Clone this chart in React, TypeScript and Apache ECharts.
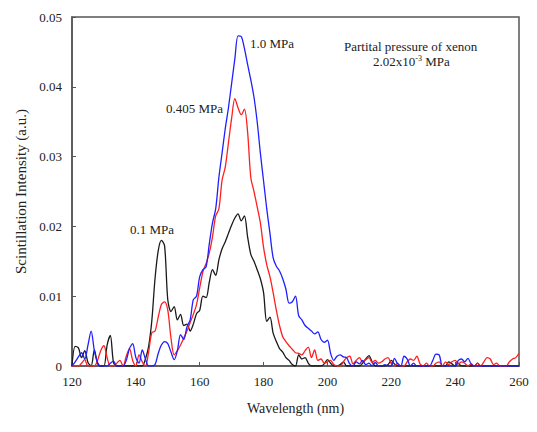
import React, { useEffect, useRef } from "react";
import * as echarts from "echarts";

const wavelengths: number[] = Array.from({ length: 141 }, (_, i) => 120 + i);

const blue10: number[] = [
  0.0, 0.0006, 0.0013, 0.0019, 0.001, 0.003, 0.005, 0.0022, 0.0005, 0.0,
  0.0, 0.0, 0.0004, 0.0007, 0.0, 0.0, 0.0, 0.0008, 0.0025, 0.0032,
  0.0012, 0.0004, 0.0023, 0.001, 0.0, 0.0, 0.0002, 0.0018, 0.003, 0.0035,
  0.0032, 0.002, 0.0009, 0.0022, 0.0045, 0.0038, 0.0056, 0.0066, 0.0095, 0.01,
  0.0128, 0.0138, 0.0142, 0.0175, 0.0205, 0.0225, 0.027, 0.0305, 0.034, 0.037,
  0.0405, 0.044, 0.0473, 0.0472, 0.0455, 0.0432, 0.041, 0.0385, 0.035, 0.0305,
  0.0265, 0.0225, 0.019, 0.0155, 0.0143, 0.0136, 0.0125, 0.011, 0.009, 0.0092,
  0.01, 0.0072, 0.0066, 0.0058, 0.0054, 0.005, 0.0046, 0.0049, 0.0038, 0.0034,
  0.0037, 0.0018, 0.0008, 0.0014, 0.0016, 0.0013, 0.0012, 0.0003, 0.0, 0.0006,
  0.0003, 0.0008, 0.0002, 0.0004, 0.0, 0.0005, 0.0, 0.0, 0.0002, 0.0,
  0.0, 0.0011, 0.0003, 0.0, 0.0014, 0.001, 0.0, 0.0004, 0.0, 0.0,
  0.0, 0.0, 0.0, 0.0008, 0.0017, 0.0016, 0.0, 0.0, 0.0, 0.0,
  0.0, 0.0008, 0.001, 0.0006, 0.0011, 0.0003, 0.0, 0.0, 0.0, 0.0,
  0.0, 0.0, 0.0, 0.0, 0.0, 0.0, 0.0, 0.0, 0.0, 0.0, 0.0,
];

const red0405: number[] = [
  0.0, 0.0, 0.0, 0.0004, 0.0009, 0.0, 0.0, 0.0, 0.0008, 0.0022,
  0.0029, 0.0012, 0.0, 0.0, 0.0004, 0.0008, 0.0, 0.0014, 0.0025, 0.0008,
  0.0, 0.0016, 0.0006, 0.0, 0.002, 0.0048, 0.005, 0.007, 0.0088, 0.0092,
  0.008, 0.004, 0.0016, 0.0022, 0.003, 0.004, 0.005, 0.0062, 0.0074, 0.0088,
  0.0112, 0.0135, 0.0147, 0.0162, 0.0185, 0.0215, 0.0225, 0.0266, 0.0285, 0.032,
  0.0355, 0.0383, 0.037, 0.036, 0.0368, 0.0335, 0.027, 0.025, 0.0228, 0.0205,
  0.017, 0.0145, 0.0128, 0.0105, 0.008, 0.0058, 0.0042, 0.0035, 0.0029, 0.0024,
  0.0019, 0.0018, 0.0016, 0.0022, 0.0027, 0.0012, 0.0023, 0.0008, 0.001, 0.0004,
  0.0006, 0.0008, 0.0002, 0.0, 0.0, 0.0006, 0.0012, 0.0014, 0.0003, 0.0008,
  0.0012, 0.0006, 0.0009, 0.0012, 0.0005, 0.0008, 0.0004, 0.0006, 0.001, 0.0012,
  0.0003, 0.0, 0.0004, 0.0, 0.0, 0.0006, 0.001, 0.0008, 0.0014, 0.0003,
  0.0, 0.0004, 0.0, 0.0, 0.0004, 0.0006, 0.0, 0.0006, 0.0002, 0.0006,
  0.0008, 0.0003, 0.0006, 0.0004, 0.0, 0.0003, 0.0, 0.0004, 0.0, 0.0006,
  0.0012, 0.001, 0.0002, 0.0004, 0.0, 0.0, 0.0, 0.0006, 0.001, 0.0012, 0.0018,
];

const black01: number[] = [
  0.0, 0.0028, 0.0026, 0.0012, 0.0022, 0.0005, 0.0, 0.0023, 0.0004, 0.0,
  0.0, 0.003, 0.0044, 0.0005, 0.0, 0.0, 0.0, 0.0, 0.0, 0.0,
  0.0, 0.0, 0.0, 0.001, 0.0028, 0.0065, 0.0125, 0.0165, 0.018, 0.0172,
  0.0095, 0.0078, 0.0085, 0.0066, 0.0074, 0.0058, 0.006, 0.005, 0.006, 0.0075,
  0.008, 0.01, 0.0098, 0.012, 0.0138, 0.013, 0.0152, 0.0168, 0.0178, 0.019,
  0.0202, 0.0212, 0.0218, 0.0208, 0.0215, 0.0185, 0.016, 0.015, 0.0138, 0.0125,
  0.0105, 0.0064, 0.007, 0.0047, 0.0035, 0.0025, 0.002, 0.0012, 0.0008, 0.0002,
  0.0, 0.0016, 0.001, 0.0012, 0.0004, 0.0, 0.0, 0.0, 0.0, 0.0003,
  0.0009, 0.0004, 0.0, 0.0, 0.0002, 0.0006, 0.0, 0.0, 0.0, 0.0,
  0.0, 0.0004, 0.001, 0.0015, 0.0006, 0.0, 0.0, 0.0, 0.0, 0.0002,
  0.0008, 0.0003, 0.0, 0.0, 0.0, 0.0, 0.0, 0.0, 0.0, 0.0,
  0.0, 0.0, 0.0, 0.0, 0.0, 0.0, 0.0, 0.0, 0.0006, 0.0003,
  0.0, 0.0004, 0.0, 0.0, 0.0, 0.0, 0.0, 0.0004, 0.0, 0.0,
  0.0, 0.0, 0.0, 0.0, 0.0, 0.0, 0.0, 0.0, 0.0, 0.0, 0.0,
];

const seriesNames = ["1.0 MPa", "0.405 MPa", "0.1 MPa"];
const seriesColors = ["#1f1fff", "#ff1f1f", "#1a1a1a"];

const FONT = "Liberation Serif";

export default function App() {
  const ref = useRef<HTMLDivElement>(null);
  useEffect(() => {
    if (!ref.current) return;
    const chart = echarts.init(ref.current, null, { renderer: "svg" });
    const toPairs = (vals: number[]) => wavelengths.map((w, i) => [w, vals[i]]);
    const allData = [blue10, red0405, black01];
    chart.setOption({
      animation: false,
      backgroundColor: "#ffffff",
      textStyle: { fontFamily: FONT },
      grid: {
        left: 72,
        right: 18,
        top: 17,
        bottom: 66,
        show: true,
        borderColor: "#555",
        borderWidth: 1.5,
        backgroundColor: "transparent",
      },
      xAxis: {
        type: "value",
        min: 120,
        max: 260,
        interval: 20,
        name: "Wavelength (nm)",
        nameLocation: "middle",
        nameGap: 35,
        nameTextStyle: { fontFamily: FONT, fontSize: 14, color: "#222" },
        axisLine: { show: true, lineStyle: { color: "#555", width: 1.5 } },
        axisTick: { show: true, inside: true, length: 4, lineStyle: { color: "#555" } },
        axisLabel: { fontFamily: FONT, fontSize: 13, color: "#222", margin: 9 },
        splitLine: { show: false },
      },
      yAxis: {
        type: "value",
        min: 0,
        max: 0.05,
        interval: 0.01,
        name: "Scintillation Intensity (a.u.)",
        nameLocation: "middle",
        nameGap: 44,
        nameTextStyle: { fontFamily: FONT, fontSize: 15, color: "#222" },
        axisLine: { show: true, lineStyle: { color: "#555", width: 1.5 } },
        axisTick: { show: true, inside: true, length: 4, lineStyle: { color: "#555" } },
        axisLabel: {
          fontFamily: FONT,
          fontSize: 13,
          color: "#222",
          margin: 10,
          formatter: (v: number) => (v === 0 ? "0" : String(Number(v.toFixed(2)))),
        },
        splitLine: { show: false },
      },
      series: allData.map((vals, i) => ({
        name: seriesNames[i],
        type: "line",
        data: toPairs(vals),
        showSymbol: false,
        symbol: "none",
        smooth: 0.3,
        lineStyle: { color: seriesColors[i], width: 1.3 },
        z: 3 - i,
      })),
      graphic: [
        {
          type: "text",
          left: 250,
          top: 37,
          style: { text: "1.0 MPa", fontFamily: FONT, fontSize: 13, fill: "#222" },
        },
        {
          type: "text",
          left: 166,
          top: 102,
          style: { text: "0.405 MPa", fontFamily: FONT, fontSize: 13, fill: "#222" },
        },
        {
          type: "text",
          left: 130,
          top: 223,
          style: { text: "0.1 MPa", fontFamily: FONT, fontSize: 13, fill: "#222" },
        },
        {
          type: "text",
          left: 344,
          top: 40,
          style: { text: "Partital pressure of xenon", fontFamily: FONT, fontSize: 13, fill: "#222" },
        },
        {
          type: "text",
          left: 373,
          top: 54,
          style: {
            text: "{a|2.02x10}{s|-3}{a| MPa}",
            rich: {
              a: { fontFamily: FONT, fontSize: 13, fill: "#222", verticalAlign: "bottom" },
              s: { fontFamily: FONT, fontSize: 8, fill: "#222", verticalAlign: "top", padding: [0, 0, 6, 0] },
            },
          },
        },
      ],
    });
    return () => chart.dispose();
  }, []);
  return (
    <div
      ref={ref}
      style={{ position: "fixed", left: 0, top: 0, width: 537, height: 432 }}
    />
  );
}
